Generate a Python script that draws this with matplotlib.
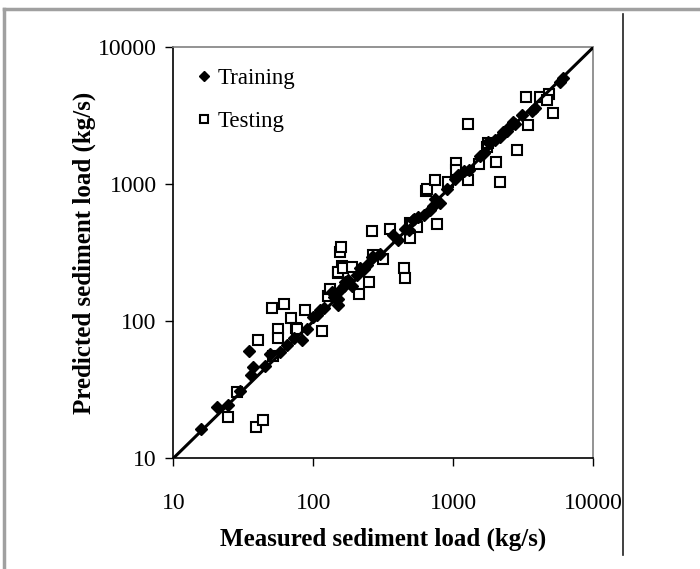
import matplotlib
matplotlib.use("Agg")
import matplotlib.pyplot as plt
from matplotlib.lines import Line2D

plt.rcParams['font.family'] = ['Liberation Serif', 'DejaVu Serif']

# Training data (measured, predicted) in kg/s
train_measured = [15.8, 20.5, 24.6, 30, 35, 36, 37, 45, 49, 58, 65, 73, 82.6, 90,
                  100, 106, 112, 120, 135, 139, 150, 155, 150, 168, 178, 204, 216,
                  240, 261, 269, 300, 372, 400, 450, 519, 560, 620, 678, 716, 803,
                  900, 1023, 1086, 1200, 1549, 1780, 2000, 2280, 2406, 2473, 2683,
                  2760, 3083, 3637, 3837, 5820, 6110, 140, 165, 190, 230, 480, 520,
                  740, 1300, 1650, 2150]
train_predicted = [16.4, 23.5, 24.6, 31, 60.8, 40.5, 46.6, 47, 58, 60, 67, 75, 73, 88,
                   108, 111, 121, 125, 164, 160, 131, 170, 145, 195, 200, 218, 244,
                   258, 296, 296, 310, 427, 390, 470, 548, 580, 600, 650, 690, 726,
                   920, 1100, 1170, 1250, 1610, 2040, 2100, 2420, 2466, 2563, 2864,
                   2750, 3206, 3400, 3590, 5580, 5943, 150, 180, 180, 240, 460, 560,
                   780, 1280, 1700, 2200]

# Testing data (measured, predicted) in kg/s
test_measured = [24.6, 28.5, 38.9, 43.5, 40.3, 51.5, 51, 61.5, 56, 56, 69, 75, 76, 87,
                 116, 128, 132, 151, 159, 149, 162, 188, 212, 248, 155, 158, 261,
                 269, 317, 353, 445, 452, 490, 490, 505, 548, 640, 646, 739, 769,
                 912, 1047, 1047, 1283, 1283, 1528, 1750, 1780, 2018, 2158, 2864,
                 3400, 3311, 4159, 4830, 4650, 5180]
test_predicted = [20.1, 30.5, 16.8, 19, 73.5, 55.5, 124, 133, 88, 76, 105, 90, 88, 121,
                  85, 154, 173, 224, 253, 230, 246, 248, 159, 195, 322, 351, 456,
                  305, 284, 472, 243, 208, 404, 519, 505, 486, 900, 925, 1075, 510,
                  1045, 1425, 1274, 1075, 2754, 1410, 1870, 1995, 1449, 1045, 1782,
                  2712, 4315, 4355, 4540, 4120, 3330]

line_range = [10, 10000]
tick_values = [10, 100, 1000, 10000]
tick_labels = ['10', '100', '1000', '10000']

fig = plt.figure(figsize=(7.0, 5.69), dpi=100)
ax = fig.add_axes([0.2476, 0.1946, 0.6, 0.7223])

ax.plot(test_measured, test_predicted, 's', ms=7, mfc='white', mec='black',
        mew=1.5, label='Testing', zorder=3)
ax.plot(train_measured, train_predicted, 'D', ms=6.5, color='black',
        label='Training', zorder=4)
ax.plot(line_range, line_range, color='black', lw=2.2, zorder=5)

ax.set_xscale('log')
ax.set_yscale('log')
ax.set_xlim(10, 10000)
ax.set_ylim(10, 10000)
ax.set_xticks(tick_values)
ax.set_xticklabels(tick_labels)
ax.set_yticks(tick_values)
ax.set_yticklabels(tick_labels)
ax.minorticks_off()
ax.tick_params(axis='both', direction='out', length=6, width=1, labelsize=17)
ax.tick_params(axis='x', pad=19)
ax.tick_params(axis='y', pad=6)

for side in ['top', 'right']:
    ax.spines[side].set_color('#808080')
    ax.spines[side].set_linewidth(1.2)
for side in ['left', 'bottom']:
    ax.spines[side].set_linewidth(1.2)

ax.set_xlabel('Measured sediment load (kg/s)', fontsize=18, fontweight='bold',
              labelpad=10)
ax.set_ylabel('Predicted sediment load (kg/s)', fontsize=18, fontweight='bold',
              labelpad=1)

handles, labels = ax.get_legend_handles_labels()
ax.legend(handles[::-1], labels[::-1], loc='upper left', frameon=False,
          fontsize=16.5, handletextpad=0.15, labelspacing=0.95, handlelength=0.9,
          borderaxespad=0.5, markerscale=0.75)

# outer frame like the original figure
fig.add_artist(Line2D([4 / 700, 4 / 700], [0, 1 - 9 / 569], color='#a0a0a0',
                      lw=2.5, transform=fig.transFigure))
fig.add_artist(Line2D([4 / 700, 1], [1 - 9 / 569, 1 - 9 / 569], color='#a0a0a0',
                      lw=2.5, transform=fig.transFigure))
fig.add_artist(Line2D([623 / 700, 623 / 700], [1 - 555 / 569, 1 - 14 / 569],
                      color='#202020', lw=1.2, transform=fig.transFigure))

fig.savefig('out.png', dpi=100)
